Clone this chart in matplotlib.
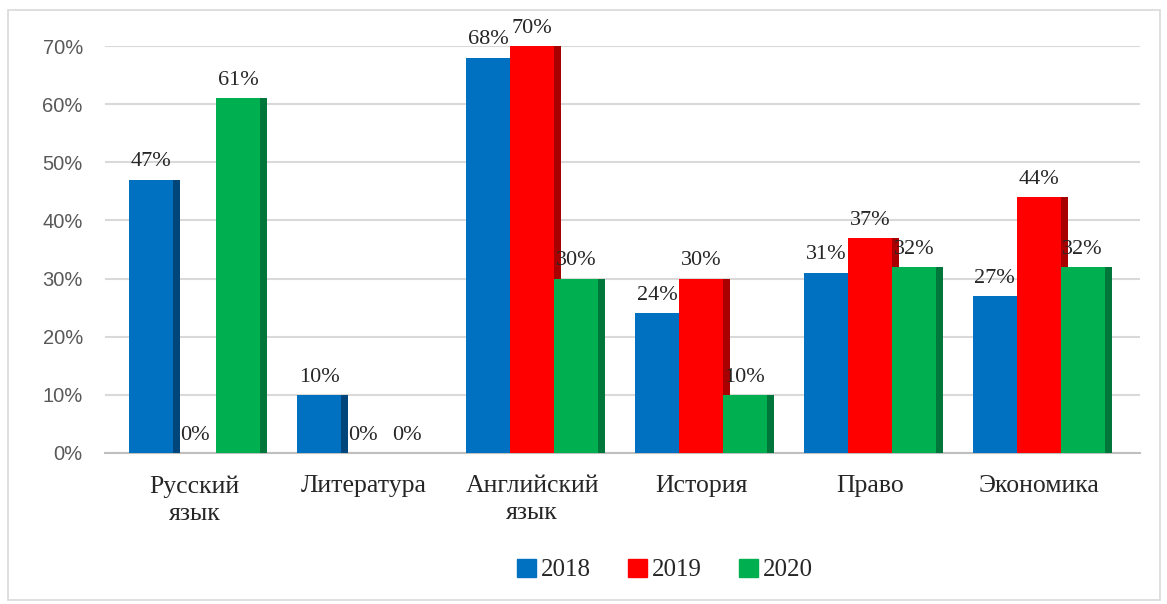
import matplotlib
matplotlib.use("Agg")
import matplotlib.pyplot as plt
from matplotlib.patches import Rectangle, Patch
import numpy as np

categories = ["Русский\nязык", "Литература", "Английский\nязык", "История", "Право", "Экономика"]
years = ["2018", "2019", "2020"]
vals_2018 = [47, 10, 68, 24, 31, 27]
vals_2019 = [0, 0, 70, 30, 37, 44]
vals_2020 = [61, 0, 30, 10, 32, 32]
yticks = [0, 10, 20, 30, 40, 50, 60, 70]

FRONT = ["#0070C0", "#FF0000", "#00B050"]
SIDE = ["#00467A", "#A80000", "#00763A"]
SERIF = "Liberation Serif"
TEXT = "#262626"

fig = plt.figure(figsize=(11.67, 6.04), dpi=100)
ax = fig.add_axes([105 / 1167, 1 - 453 / 604, (1140 - 105) / 1167, (453 - 46) / 604])

x = np.arange(len(categories))
w = 0.26
side_w = 0.042
series = [vals_2018, vals_2019, vals_2020]
for j, vals in enumerate(series):
    xs = x + (j - 1) * w
    ax.bar(xs, vals, w, color=FRONT[j], zorder=3 + j)
    ax.bar(xs + w / 2 + side_w / 2, vals, side_w, color=SIDE[j], zorder=3 + j)
    for xi, v in zip(xs, vals):
        ax.annotate(f"{v}%", (xi, v), xytext=(0, 6), textcoords="offset points",
                    ha="center", va="bottom", fontsize=16, family=SERIF,
                    color=TEXT, zorder=10, annotation_clip=False)

ax.set_xlim(-0.53, 5.6)
ax.set_ylim(0, 70)
ax.set_yticks(yticks)
ax.set_yticklabels([f"{t}%" for t in yticks], family="Liberation Sans",
                   fontsize=14.5, color="#595959")
ax.set_xticks(x)
ax.set_xticklabels(categories, family=SERIF, fontsize=18.5, color=TEXT,
                   linespacing=1.3, va="top")
ax.tick_params(axis="both", length=0)
ax.tick_params(axis="y", pad=16)
ax.tick_params(axis="x", pad=16)
ax.grid(axis="y", color="#D9D9D9", linewidth=1.5, zorder=0)
for s in ["top", "right", "left"]:
    ax.spines[s].set_visible(False)
ax.spines["bottom"].set_color("#BFBFBF")
ax.spines["bottom"].set_linewidth(1.5)

handles = [Patch(facecolor=c, edgecolor=c) for c in FRONT]
fig.legend(handles, years, loc="center", bbox_to_anchor=(665 / 1167, 1 - 570 / 604),
           ncol=3, frameon=False, prop={"family": SERIF, "size": 18},
           handlelength=0.75, handleheight=0.75, handletextpad=0.2,
           columnspacing=1.5, labelcolor=TEXT)

fig.patches.append(Rectangle((8 / 1167, 1 - 600 / 604), (1160 - 8) / 1167,
                             (600 - 10) / 604, transform=fig.transFigure,
                             fill=False, edgecolor="#D9D9D9", linewidth=1.2))

fig.savefig("out.png", dpi=100)
